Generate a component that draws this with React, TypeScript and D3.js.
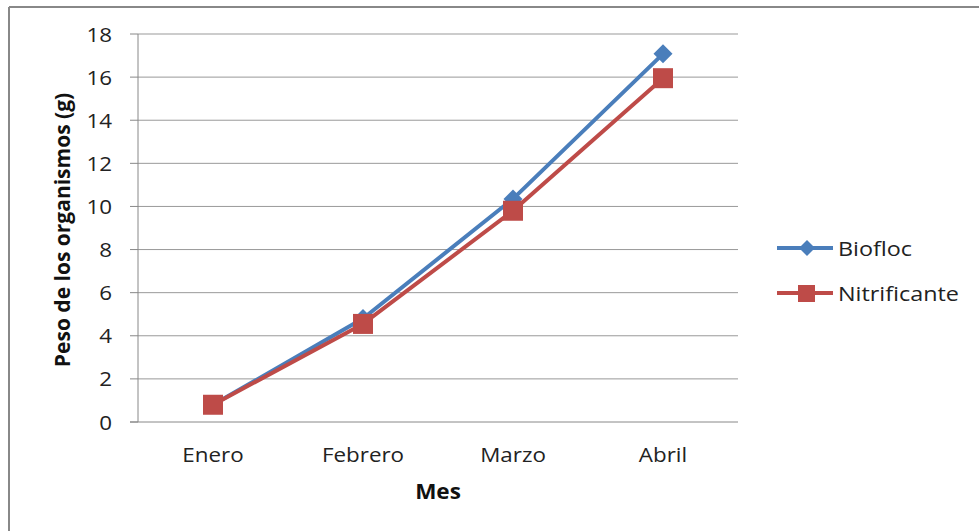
import React from "react";
import * as d3 from "d3";

const categories = ["Enero", "Febrero", "Marzo", "Abril"];
const biofloc = [0.8, 4.8, 10.35, 17.08];
const nitrificante = [0.8, 4.55, 9.8, 15.95];
const yTicks = [0, 2, 4, 6, 8, 10, 12, 14, 16, 18];
const seriesNames = ["Biofloc", "Nitrificante"];

const W = 979;
const H = 531;
const FONT = "'Open Sans', sans-serif";
const SX = 1.12;

function T(props: { x: number; y: number; anchor?: string; size: number; bold?: boolean; children: React.ReactNode; sx?: number }) {
  const { x, y, anchor = "start", size, bold, children, sx = SX } = props;
  return (
    <text transform={`translate(${x},${y}) scale(${sx},1)`} textAnchor={anchor as any} fontSize={size}
      fontWeight={bold ? "bold" : "normal"} fill={bold ? "#111" : "#222"}>
      {children}
    </text>
  );
}

export default function App() {
  const left = 138, right = 738, top = 34, bottom = 422;
  const x = d3.scaleBand<string>().domain(categories).range([left, right]);
  const y = d3.scaleLinear().domain([0, 18]).range([bottom, top]);
  const cx = (c: string) => (x(c) as number) + x.bandwidth() / 2;
  const line = d3.line<[number, number]>().x(d => d[0]).y(d => d[1]);
  const blue = "#4A7EBB";
  const red = "#BE4B48";
  const bPts: [number, number][] = categories.map((c, i) => [cx(c), y(biofloc[i])]);
  const nPts: [number, number][] = categories.map((c, i) => [cx(c), y(nitrificante[i])]);
  const diamond = (px: number, py: number, r: number) =>
    `M${px},${py - r}L${px + r},${py}L${px},${py + r}L${px - r},${py}Z`;

  return (
    <svg width={W} height={H} style={{ position: "absolute", left: 0, top: 0 }} fontFamily={FONT}>
      <rect x={0} y={0} width={W} height={H} fill="#fff" />
      <line x1={9} y1={7} x2={W} y2={7} stroke="#888" strokeWidth={2} />
      <line x1={9} y1={7} x2={9} y2={H} stroke="#888" strokeWidth={2} />
      {yTicks.map(t => (
        <g key={t}>
          {t > 0 && <line x1={left} x2={right} y1={y(t)} y2={y(t)} stroke="#999" strokeWidth={1} />}
          <line x1={left - 8} x2={left} y1={y(t)} y2={y(t)} stroke="#888" strokeWidth={1} />
          <T x={left - 26} y={y(t) + 7.5} anchor="end" size={20}>{t}</T>
        </g>
      ))}
      <line x1={left} x2={left} y1={top} y2={bottom} stroke="#888" strokeWidth={1} />
      <line x1={left - 8} x2={right} y1={bottom} y2={bottom} stroke="#888" strokeWidth={1} />
      {categories.map(c => (
        <T key={c} x={cx(c)} y={462} anchor="middle" size={20}>{c}</T>
      ))}
      <T x={438} y={499} anchor="middle" size={20.5} bold sx={1.1}>Mes</T>
      <text transform={`translate(70,230) rotate(-90)`} textAnchor="middle" fontSize={21} fontWeight="bold" fill="#111">Peso de los organismos (g)</text>
      <path d={line(bPts) || ""} fill="none" stroke={blue} strokeWidth={4} strokeLinejoin="round" />
      {bPts.map((p, i) => <path key={i} d={diamond(p[0], p[1], 9.5)} fill={blue} />)}
      <path d={line(nPts) || ""} fill="none" stroke={red} strokeWidth={4} strokeLinejoin="round" />
      {nPts.map((p, i) => <rect key={i} x={p[0] - 10} y={p[1] - 10} width={20} height={20} fill={red} />)}
      <g>
        <line x1={777} x2={833} y1={248} y2={248} stroke={blue} strokeWidth={4} />
        <path d={diamond(807, 248, 8)} fill={blue} />
        <T x={838} y={256} size={20.5} sx={1.14}>{seriesNames[0]}</T>
        <line x1={777} x2={833} y1={293} y2={293} stroke={red} strokeWidth={4} />
        <rect x={798} y={285} width={17} height={17} fill={red} />
        <T x={838} y={301} size={20.5} sx={1.14}>{seriesNames[1]}</T>
      </g>
    </svg>
  );
}
